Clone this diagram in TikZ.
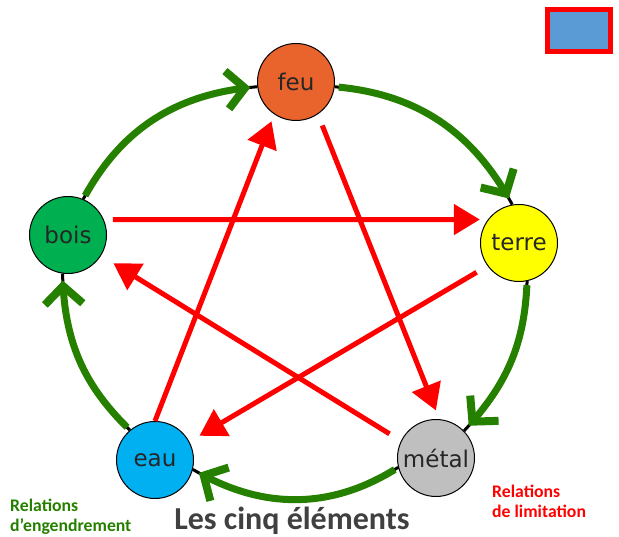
\documentclass[tikz,border=0pt]{standalone}
\usepackage{fontspec}
\setmainfont{Carlito}
\newfontfamily\elemfont{DejaVu Sans}
\usetikzlibrary{arrows.meta,bending}

\definecolor{feuorange}{RGB}{233,100,45}
\definecolor{terreyellow}{RGB}{255,255,0}
\definecolor{metalgray}{RGB}{191,191,191}
\definecolor{eaublue}{RGB}{0,176,240}
\definecolor{boisgreen}{RGB}{0,176,80}
\definecolor{gengreen}{RGB}{38,128,0}
\definecolor{boxblue}{RGB}{91,155,213}
\definecolor{titlegray}{RGB}{64,64,64}

\begin{document}
\begin{tikzpicture}[x=1pt,y=1pt,
  elem/.style={draw=black,line width=1pt,circle,minimum size=77pt,inner sep=0pt,font=\elemfont\fontsize{23}{27}\selectfont,text=black!85},
  gen/.style={draw=gengreen,line width=7pt,shorten <=4pt,shorten >=7pt,-{Straight Barb[length=18pt,width=38pt,line width=8pt]}},
  genend/.style={draw=black,line width=3pt},
  lim/.style={draw=red,line width=5pt,-{Triangle[length=26pt,width=30pt]}},
  legend/.style={font=\bfseries\fontsize{17.7}{20}\selectfont,align=left,anchor=base west,inner sep=0pt}]
  \useasboundingbox (0,0) rectangle (619,537);

  % the five elements
  \node[elem,fill=feuorange] (feu) at (296,455) {feu};
  \node[elem,fill=terreyellow] (terre) at (519,294) {terre};
  \node[elem,fill=metalgray] (metal) at (436,79) {métal};
  \node[elem,fill=eaublue] (eau) at (155,77) {eau};
  \node[elem,fill=boisgreen] (bois) at (68,302) {bois};

  % top right box
  \node[draw=red,line width=5pt,fill=boxblue,minimum width=63pt,minimum height=42pt] (box) at (579,506) {};

  % generating cycle
  \foreach \src/\srcang/\dst/\dstang/\bnd in {bois/67/feu/187/28, feu/353/terre/100/28, terre/282/metal/44/20, metal/194/eau/346/31, eau/130/bois/262/22}{
    \draw[genend] (\src.\srcang) to[bend left=\bnd] (\dst.\dstang);
    \draw[gen] (\src.\srcang) to[bend left=\bnd] (\dst.\dstang);
  }

  % limiting star
  \draw[lim,shorten <=9pt,shorten >=8pt] (bois.23) -- (terre.143);
  \draw[lim,shorten <=12.6pt,shorten >=11.6pt] (terre.216) -- (eau.28);
  \draw[lim,shorten >=7.4pt] (eau.90) -- (feu.236);
  \draw[lim,shorten <=12pt,shorten >=9.4pt] (feu.304) -- (metal.85);
  \draw[lim,shorten <=13.4pt,shorten >=14.5pt] (metal.154) -- (bois.328);

  % labels
  \node[legend,text=gengreen] (genlabel) at (10,5) {Relations\\d'engendrement};
  \node[legend,text=red] (limlabel) at (492,19) {Relations\\de limitation};
  \node[font=\bfseries\fontsize{32}{38}\selectfont,text=titlegray,anchor=base,inner sep=0pt] (title) at (292,7) {Les cinq éléments};
\end{tikzpicture}
\end{document}
